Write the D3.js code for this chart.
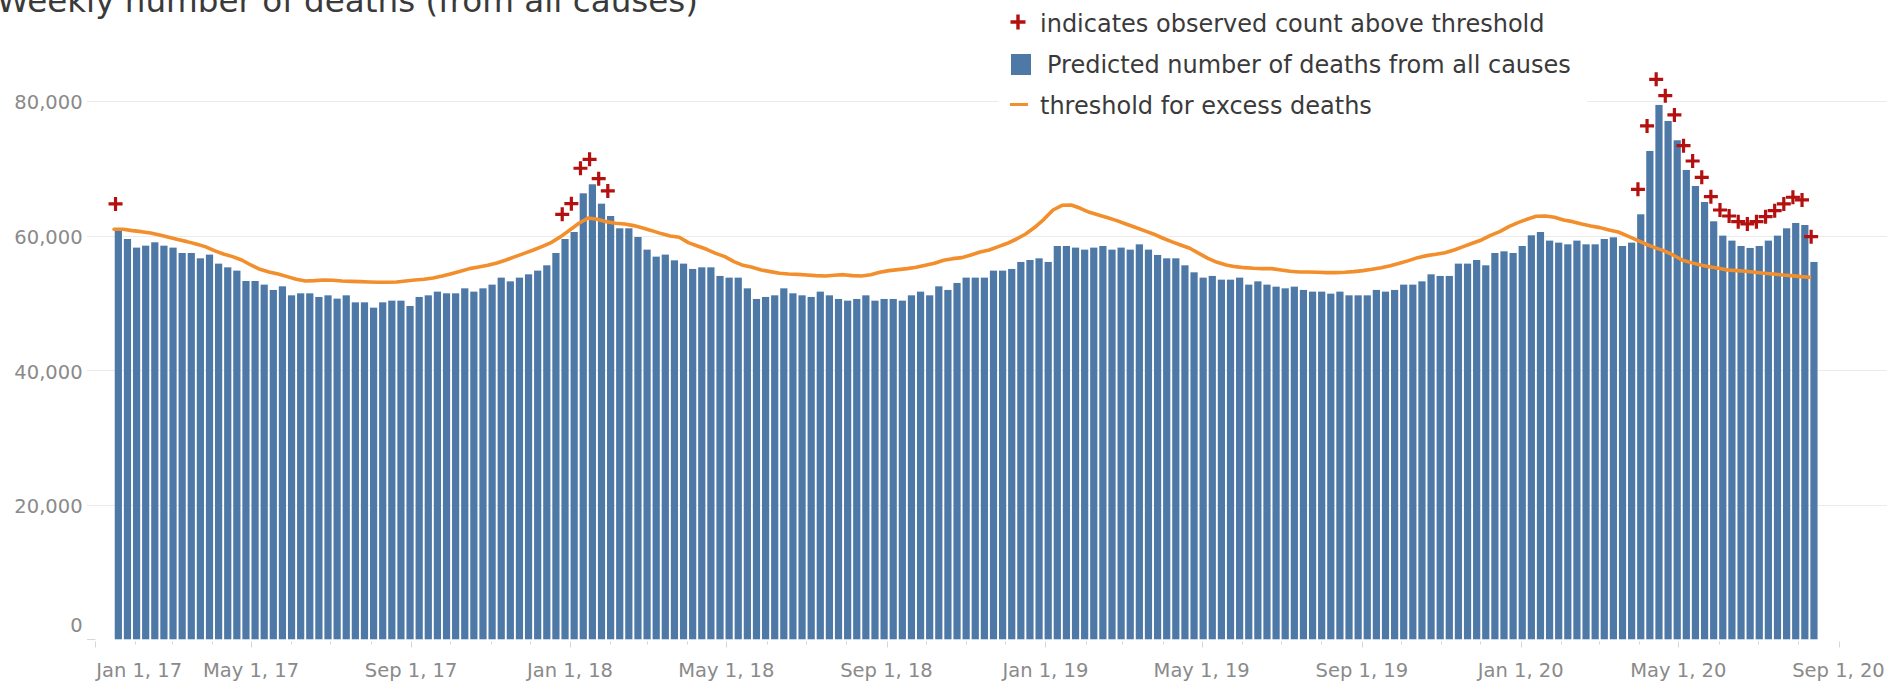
<!DOCTYPE html>
<html>
<head>
<meta charset="utf-8">
<script src="https://cdn.jsdelivr.net/npm/d3@7"></script>
<style>
    html, body { margin: 0; padding: 0; background: #fff; overflow: hidden; }
    svg { display: block; font-family: "DejaVu Sans", sans-serif; }
</style>
</head>
<body>
<svg id="chart" width="1887" height="681"></svg>
<script>
// weekly data, Jan 2017 - Aug 2020 (as plotted)
var firstWeek = new Date(Date.UTC(2017, 0, 17));

var predicted = [
    60670, 59480, 58200, 58490, 58990, 58490, 58200, 57400, 57400, 56610,
    57160, 55820, 55270, 54780, 53240, 53240, 52700, 51910, 52450, 51110,
    51410, 51410, 50870, 51110, 50620, 51110, 50070, 50070, 49280, 50070,
    50320, 50320, 49530, 50870, 51110, 51660, 51410, 51410, 52150, 51660,
    52150, 52700, 53740, 53190, 53740, 54230, 54780, 55570, 57400, 59480,
    60520, 66270, 67610, 64730, 62900, 61070, 61070, 59780, 57900, 56860,
    57160, 56310, 55820, 55030, 55270, 55270, 53990, 53740, 53740, 52150,
    50570, 50870, 51110, 52150, 51410, 51110, 50870, 51660, 51110, 50570,
    50320, 50570, 51110, 50320, 50570, 50570, 50320, 51110, 51660, 51110,
    52450, 51910, 52950, 53740, 53740, 53740, 54780, 54780, 55030, 56070,
    56360, 56610, 56070, 58440, 58440, 58200, 57900, 58200, 58440, 57900,
    58200, 57900, 58690, 57900, 57110, 56610, 56610, 55570, 54530, 53740,
    53990, 53440, 53440, 53740, 52700, 53190, 52700, 52400, 52150, 52400,
    51910, 51660, 51660, 51360, 51660, 51110, 51110, 51110, 51910, 51660,
    51910, 52700, 52700, 53190, 54230, 53990, 53990, 55820, 55820, 56360,
    55570, 57400, 57650, 57400, 58440, 60030, 60520, 59240, 58940, 58690,
    59240, 58690, 58690, 59480, 59730, 58440, 58940, 63150, 72560, 79400,
    77020, 74150, 69740, 67360, 64980, 62110, 59980, 59240, 58440, 58150,
    58440, 59240, 59980, 61070, 61860, 61560, 56070
];

var threshold = [
    60920, 60920, 60720, 60570, 60380, 60080, 59730, 59390, 59090, 58740,
    58350, 57750, 57260, 56860, 56360, 55620, 54980, 54580, 54280, 53890,
    53490, 53240, 53290, 53390, 53340, 53240, 53190, 53140, 53100, 53050,
    53050, 53100, 53240, 53390, 53490, 53690, 53990, 54330, 54680, 55080,
    55320, 55570, 55920, 56360, 56860, 57350, 57850, 58390, 58990, 59830,
    60820, 61810, 62600, 62410, 62060, 61810, 61710, 61470, 61120, 60720,
    60280, 59930, 59730, 58940, 58440, 57950, 57350, 56860, 56120, 55570,
    55270, 54880, 54630, 54380, 54280, 54230, 54140, 54040, 53990, 54090,
    54180, 54040, 53990, 54180, 54530, 54780, 54930, 55080, 55270, 55570,
    55870, 56310, 56560, 56710, 57110, 57550, 57850, 58350, 58840, 59480,
    60230, 61220, 62410, 63790, 64490, 64540, 64040, 63450, 63050, 62650,
    62210, 61710, 61220, 60720, 60230, 59630, 59090, 58590, 58100, 57350,
    56610, 56020, 55620, 55370, 55220, 55130, 55080, 55080, 54880, 54680,
    54580, 54580, 54530, 54480, 54480, 54530, 54630, 54780, 54980, 55220,
    55520, 55870, 56270, 56710, 57010, 57210, 57450, 57850, 58350, 58840,
    59340, 60030, 60570, 61320, 61910, 62410, 62850, 62900, 62700, 62310,
    62060, 61710, 61420, 61170, 60820, 60520, 59930, 59340, 58740, 58200,
    57750, 57110, 56360, 55970, 55620, 55370, 55130, 54880, 54780, 54680,
    54530, 54380, 54280, 54140, 54040, 53890, 53790
];

// weeks (1-based) where the observed count is above threshold
var aboveWeek = [1, 50, 51, 52, 53, 54, 55,
    168, 169, 170, 171, 172, 173, 174, 175, 176, 177,
    178, 179, 180, 181, 182, 183, 184, 185, 186, 187];
var aboveCount = [64690, 63150, 64730, 69990, 71320, 68450, 66620,
    66860, 76280, 83200, 80780, 77910, 73350, 71070, 68650, 65770, 63790,
    62900, 62060, 61710, 62060, 62800, 63690, 64690, 65680, 65280, 59830];

var yTicks = [0, 20000, 40000, 60000, 80000];

var legendLabels = [
    "indicates observed count above threshold",
    "Predicted number of deaths from all causes",
    "threshold for excess deaths"
];

var titleText = "Weekly number of deaths (from all causes)";

var colors = {bar: "#4e79a7", line: "#f28e2b", plus: "#b3100f", grid: "#ebebeb", tick: "#d6d6d6", axisText: "#8a8a8a", text: "#3a3a3a"};

var weeks = predicted.map(function(d, i) { return d3.utcDay.offset(firstWeek, 7 * i); });

var svg = d3.select("#chart");

var x = d3.scaleUtc()
    .domain([new Date(Date.UTC(2017, 0, 1)), new Date(Date.UTC(2020, 8, 1))])
    .range([94.7, 1838.5]);

var y = d3.scaleLinear()
    .domain([0, 80000])
    .range([639.3, 100.9]);

var barNudge = 2.8;
var barGap = 1.9;

// gridlines (the zero line only shows as a stub left of the first tick)
svg.append("g")
        .attr("class", "grid")
    .selectAll("line")
        .data(yTicks)
        .enter()
    .append("line")
        .attr("x1", 87)
        .attr("x2", function(d) { return d === 0 ? Math.round(x.range()[0]) + 0.5 : 1887; })
        .attr("y1", function(d) { return Math.round(y(d)) + 0.5; })
        .attr("y2", function(d) { return Math.round(y(d)) + 0.5; })
        .attr("stroke", function(d) { return d === 0 ? colors.tick : colors.grid; })
        .attr("stroke-width", 1);

// y axis labels
svg.append("g")
        .attr("class", "y-labels")
    .selectAll("text")
        .data(yTicks)
        .enter()
    .append("text")
        .attr("x", 82.6)
        .attr("y", function(d) { return d === 0 ? y(d) - 14.8 : y(d) + 1.5; })
        .attr("dy", "0.36em")
        .attr("text-anchor", "end")
        .attr("font-size", "19.5px")
        .attr("fill", colors.axisText)
        .text(d3.format(","));

// x axis ticks
var months = d3.utcMonth.range(x.domain()[0], d3.utcDay.offset(x.domain()[1], 1));
var labelMonths = months.filter(function(d) { return d.getUTCMonth() % 4 === 0; });

svg.append("g")
        .attr("class", "x-ticks")
    .selectAll("line")
        .data(months)
        .enter()
    .append("line")
        .attr("x1", function(d) { return Math.round(x(d)) + 0.5; })
        .attr("x2", function(d) { return Math.round(x(d)) + 0.5; })
        .attr("y1", 641.5)
        .attr("y2", function(d) { return d.getUTCMonth() % 4 === 0 ? 647.5 : 644.5; })
        .attr("stroke", colors.tick);

svg.append("g")
        .attr("class", "x-labels")
    .selectAll("text")
        .data(labelMonths)
        .enter()
    .append("text")
        .attr("x", function(d, i) { return i === 0 ? x(d) + 1.5 : x(d); })
        .attr("y", 677)
        .attr("text-anchor", function(d, i) { return i === 0 ? "start" : "middle"; })
        .attr("font-size", "19.5px")
        .attr("fill", colors.axisText)
        .text(d3.utcFormat("%b %-d, %y"));

// legend background hides the top gridline
svg.append("rect")
    .attr("x", 998)
    .attr("y", 0)
    .attr("width", 589)
    .attr("height", 122)
    .attr("fill", "#fff");

// bars
svg.append("g")
        .attr("class", "bars")
    .selectAll("rect")
        .data(predicted)
        .enter()
    .append("rect")
        .attr("x", function(d, i) {
            var w = x(d3.utcDay.offset(weeks[i], 7)) - x(weeks[i]) - barGap;
            return x(weeks[i]) + barNudge - w / 2;
        })
        .attr("width", function(d, i) { return x(d3.utcDay.offset(weeks[i], 7)) - x(weeks[i]) - barGap; })
        .attr("y", function(d) { return y(d); })
        .attr("height", function(d) { return y(0) - y(d); })
        .attr("fill", colors.bar);

// threshold line
var line = d3.line()
    .x(function(d, i) { return x(weeks[i]) - 1.5; })
    .y(function(d) { return y(d); })
    .curve(d3.curveLinear);

svg.append("path")
    .datum(threshold)
    .attr("d", line)
    .attr("fill", "none")
    .attr("stroke", colors.line)
    .attr("stroke-width", 3.6)
    .attr("stroke-linejoin", "round")
    .attr("stroke-linecap", "round");

// plus markers
var plusPath = function(s) { return "M" + (-s) + ",0H" + s + "M0," + (-s) + "V" + s; };

svg.append("g")
        .attr("class", "plus")
    .selectAll("path")
        .data(aboveWeek)
        .enter()
    .append("path")
        .attr("transform", function(d, i) { return "translate(" + x(weeks[d - 1]) + "," + y(aboveCount[i]) + ")"; })
        .attr("d", plusPath(7))
        .attr("stroke", colors.plus)
        .attr("stroke-width", 3.2)
        .attr("fill", "none");

// legend
var legend = svg.append("g").attr("class", "legend");

legend.append("path")
    .attr("transform", "translate(1018,22)")
    .attr("d", plusPath(7.5))
    .attr("stroke", colors.plus)
    .attr("stroke-width", 3.4);

legend.append("rect")
    .attr("x", 1011)
    .attr("y", 54)
    .attr("width", 20)
    .attr("height", 21)
    .attr("fill", colors.bar);

legend.append("line")
    .attr("x1", 1010)
    .attr("x2", 1028)
    .attr("y1", 104.5)
    .attr("y2", 104.5)
    .attr("stroke", colors.line)
    .attr("stroke-width", 3);

legend.selectAll("text")
        .data(legendLabels)
        .enter()
    .append("text")
        .attr("x", function(d, i) { return i === 1 ? 1047 : 1040; })
        .attr("y", function(d, i) { return [32, 73, 114][i]; })
        .attr("font-size", "24px")
        .attr("fill", colors.text)
        .text(function(d) { return d; });

// title, cut off at the top of the view as in the original
svg.append("text")
    .attr("x", 698)
    .attr("y", 12)
    .attr("text-anchor", "end")
    .attr("font-size", "32.6px")
    .attr("fill", colors.text)
    .text(titleText);
</script>
</body>
</html>
